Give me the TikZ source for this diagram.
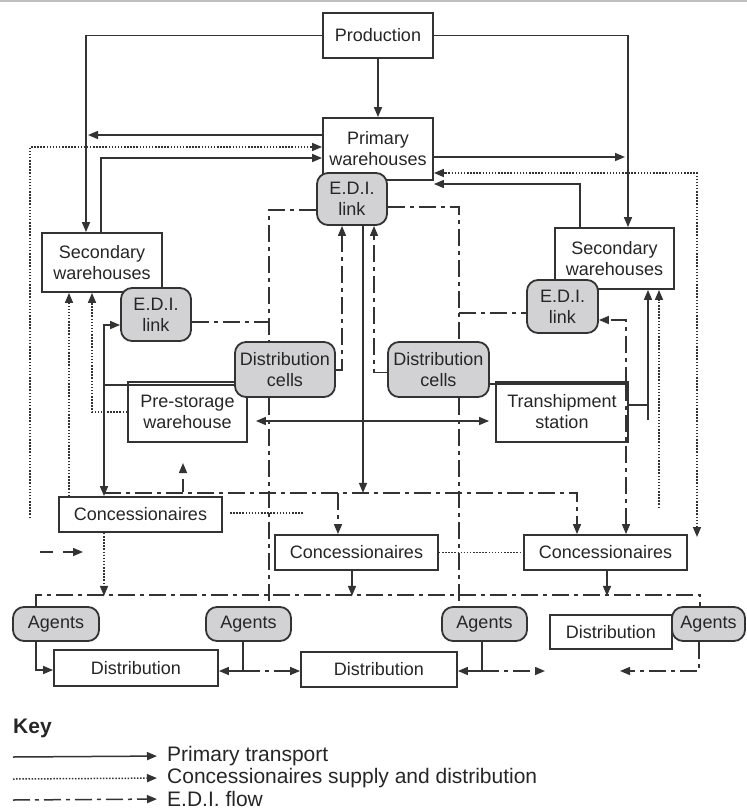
\documentclass[tikz,border=0pt]{standalone}
\usepackage{fontspec}
\setmainfont{Liberation Sans}
\usetikzlibrary{arrows.meta}
\definecolor{inkc}{HTML}{333333}
\definecolor{cellc}{HTML}{D2D2D4}
\newcommand{\boxfont}{\fontsize{18}{21}\selectfont}
\newcommand{\keyfont}{\fontsize{21}{24}\selectfont}

\begin{document}
\begin{tikzpicture}[x=1pt,y=-1pt,
  >={Triangle[length=10pt,width=8pt]},
  box/.style={draw=inkc,line width=1.8pt,fill=white,text=black!85,align=center,inner sep=0pt,font=\boxfont},
  cell/.style={box,fill=cellc,rounded corners=11pt},
  prim/.style={draw=inkc,line width=1.5pt},
  conc/.style={prim,dash pattern=on 1.5pt off 1.6pt},
  edi/.style={prim,dash pattern=on 17pt off 5pt on 4pt off 5pt},
  dsh/.style={prim,dash pattern=on 13pt off 10pt},
  keytext/.style={anchor=west,inner sep=0pt,text=black!85,font=\keyfont}]
\useasboundingbox (0,0) rectangle (747,812);
\draw[black!25,line width=2pt] (0,1) -- (747,1);
\node[box,minimum width=110pt,minimum height=45pt] (prod) at (378,35.5) {Production};
\node[box,minimum width=110pt,minimum height=62pt] (prim) at (378,149) {Primary\\warehouses};
\node[cell,minimum width=70pt,minimum height=52pt] (edi1) at (352,199) {E.D.I.\\link};
\node[box,minimum width=120pt,minimum height=59pt] (secL) at (102,262.5) {Secondary\\warehouses};
\node[cell,minimum width=70pt,minimum height=53pt] (ediL) at (156,314.5) {E.D.I.\\link};
\node[box,minimum width=119pt,minimum height=61pt] (secR) at (614.5,258.5) {Secondary\\warehouses};
\node[cell,minimum width=71pt,minimum height=53pt] (ediR) at (562.5,306.5) {E.D.I.\\link};
\node[box,minimum width=119pt,minimum height=60pt] (pre) at (187.5,412) {Pre-storage\\warehouse};
\node[box,minimum width=132pt,minimum height=60pt] (trans) at (562,412) {Transhipment\\station};
\node[cell,minimum width=100pt,minimum height=55pt] (cellL) at (285,369.5) {Distribution\\cells};
\node[cell,minimum width=101pt,minimum height=55pt] (cellR) at (438.5,369.5) {Distribution\\cells};
\node[box,minimum width=163pt,minimum height=35pt] (conL) at (140.5,514.5) {Concessionaires};
\node[box,minimum width=163pt,minimum height=35pt] (conM) at (356.5,552.5) {Concessionaires};
\node[box,minimum width=163pt,minimum height=35pt] (conR) at (605.5,552.5) {Concessionaires};
\node[box,minimum width=164pt,minimum height=36pt] (dis1) at (136,668) {Distribution};
\node[box,minimum width=156pt,minimum height=35pt] (dis2) at (379,669.5) {Distribution};
\node[box,minimum width=122pt,minimum height=34pt] (dis3) at (611,632) {Distribution};
\node[cell,minimum width=86pt,minimum height=34pt] (ag1) at (56,624) {Agents};
\node[cell,minimum width=85pt,minimum height=34pt] (ag2) at (248.5,624) {Agents};
\node[cell,minimum width=85pt,minimum height=34pt] (ag3) at (484.5,624) {Agents};
\node[cell,minimum width=73pt,minimum height=34pt] (ag4) at (708.5,624) {Agents};
\coordinate (pL) at (88,135);
\coordinate (pR) at (625,157);
\coordinate (dL) at (30,518);
\coordinate (dR) at (697,537);
\coordinate (jL) at (269,322);
\coordinate (jR) at (459,313);
\coordinate (jP) at (104,385);
\coordinate (jT) at (626,384);
\coordinate (tQ) at (648,405);
\coordinate (tS) at (648,420);
\coordinate (dS) at (659,508);
\coordinate (hE) at (104,493);
\coordinate (hM) at (338,493);
\coordinate (hA) at (360,595);
\coordinate (uA) at (183,492);
\coordinate (uB) at (183,463);
\coordinate (cA) at (230,513);
\coordinate (cB) at (303,513);
\coordinate (sA) at (40,552);
\coordinate (sB) at (83,552);
\coordinate (a2) at (243,671);
\coordinate (a3) at (482,671);
\coordinate (e3) at (545,671);
\coordinate (e4) at (620,671);
\draw[prim,->] (prod) -- (prim);
\draw[prim,->] (prod.west) -| ([xshift=-16pt]secL.north);
\draw[prim,->] (prod.east) -| ([xshift=13.5pt]secR.north);
\draw[prim,->] ([yshift=14pt]prim.west) -- (pL);
\draw[conc,->] (dL) |- ([yshift=2pt]prim.west);
\draw[prim,->] ([xshift=-1pt]secL.north) |- ([yshift=-9pt]prim.west);
\draw[prim,->] ([yshift=-8pt]prim.east) -- (pR);
\draw[conc,<->] (dR) |- ([yshift=-24pt]prim.east);
\draw[prim,->] ([xshift=-34.5pt]secR.north) |- ([yshift=-35pt]prim.east);
\draw[edi] ([yshift=-11pt]edi1.west) -| ([xshift=-16pt]cellL.north);
\draw[edi] ([yshift=-7.5pt]ediL.east) -- (jL);
\draw[edi] ([xshift=-16pt]cellL.south) -- ([xshift=20.5pt]ag2.north);
\draw[prim,->] ([xshift=11pt]edi1.south) -- ++(0,267);
\draw[edi,->] ([yshift=-0.5pt]cellL.east) -| ([xshift=-10pt]edi1.south);
\draw[edi,->] ([yshift=-3pt]cellR.west) -| ([xshift=22pt]edi1.south);
\draw[edi] ([yshift=-8pt]edi1.east) -| ([xshift=20.5pt]cellR.north);
\draw[edi] (jR) -- ([yshift=-6.5pt]ediR.west);
\draw[edi] ([xshift=20.5pt]cellR.south) -- ([xshift=-25.5pt]ag3.north);
\draw[prim] ([yshift=-15.5pt]cellL.west) -- (jP);
\draw[prim,->] (jP) |- ([yshift=-10.5pt]ediL.west);
\draw[prim,->] (jP) -- ([xshift=-36.5pt]conL.north);
\draw[prim] ([yshift=-14.5pt]cellR.east) -- (jT);
\draw[edi,->] (jT) |- ([yshift=-13.5pt]ediR.east);
\draw[edi,->] (jT) -- ([xshift=20.5pt]conR.north);
\draw[prim] ([yshift=7pt]trans.east) -- (tQ);
\draw[prim,->] (tS) -- ([xshift=33.5pt]secR.south);
\draw[conc,->] (dS) -- ([xshift=44.5pt]secR.south);
\draw[conc,->] ([xshift=-71.5pt]conL.north) -- ([xshift=-33pt]secL.south);
\draw[conc,->] (pre.west) -| ([xshift=-10pt]secL.south);
\draw[prim,<->,shorten <=8pt,shorten >=6pt] ([yshift=-9pt]pre.east) -- ([yshift=-9pt]trans.west);
\draw[dsh,->] (uA) -- (uB);
\draw[edi,->] (hE) -| ([xshift=-28.5pt]conR.north);
\draw[edi,->] (hM) -- ([xshift=-18.5pt]conM.north);
\draw[conc] (cA) -- (cB);
\draw[conc] (conM.east) -- (conR.west);
\draw[dsh,->] (sA) -- (sB);
\draw[conc,->] ([xshift=-36.5pt]conL.south) -- ++(0,63);
\draw[edi] ([xshift=-20pt]ag1.north) |- (hA) -| ([xshift=-8.5pt]ag4.north);
\draw[prim,->] ([xshift=-4.5pt]conM.south) -- ++(0,25);
\draw[prim,->] ([xshift=1.5pt]conR.south) -- ++(0,25);
\draw[prim,->] ([xshift=-20pt]ag1.south) |- ([yshift=-2pt]dis1.west);
\draw[prim,->] ([xshift=-5.5pt]ag2.south) |- ([yshift=-3pt]dis1.east);
\draw[edi,->] (a2) -- ([yshift=-1.5pt]dis2.west);
\draw[prim,->] ([xshift=-2.5pt]ag3.south) |- ([yshift=-1.5pt]dis2.east);
\draw[edi,->] (a3) -- (e3);
\draw[edi,->] ([xshift=-9.5pt]ag4.south) |- (e4);
\node[anchor=west,inner sep=0pt,text=black!85,font=\bfseries\keyfont] (key) at (13,728) {Key};
\node[keytext] (k1) at (167,756) {Primary transport};
\node[keytext] (k2) at (167,778) {Concessionaires supply and distribution};
\node[keytext] (k3) at (167,799) {E.D.I. flow};
\coordinate (l1) at (13,757);
\coordinate (l2) at (13,779);
\coordinate (l3) at (13,800);
\draw[prim,->,shorten >=10pt] (l1) -- (k1.west);
\draw[conc,->,shorten >=10pt] (l2) -- (k2.west);
\draw[edi,->,shorten >=10pt] (l3) -- (k3.west);
\end{tikzpicture}
\end{document}
